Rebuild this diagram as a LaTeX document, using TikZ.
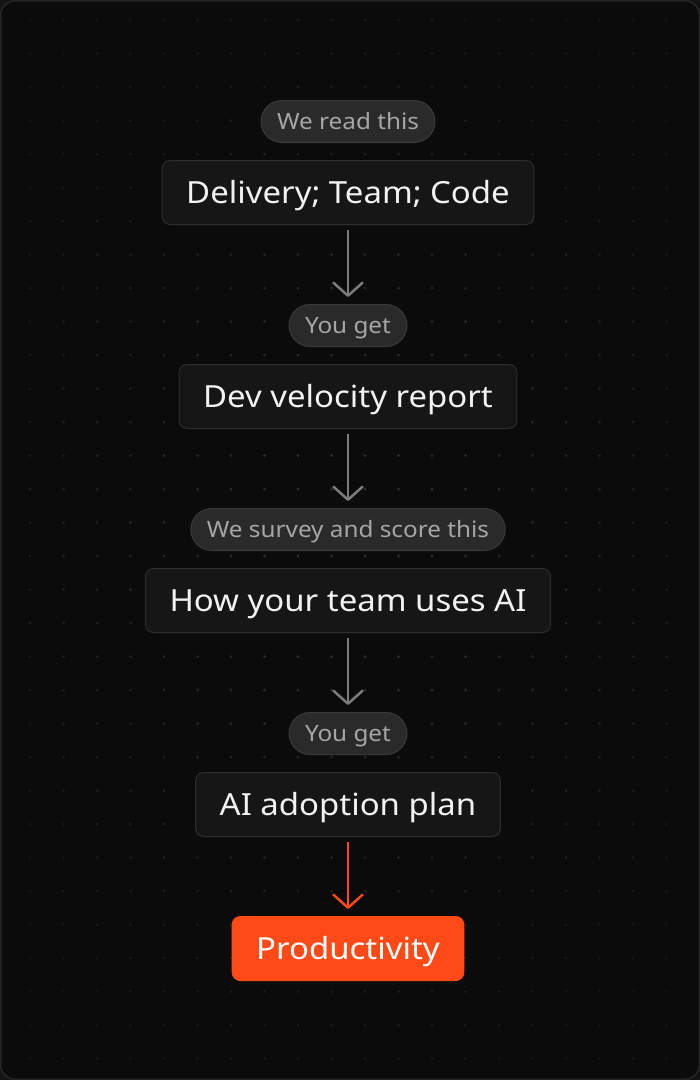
\documentclass[tikz,border=0pt]{standalone}
\usepackage{fontspec}
\setmainfont{Noto Sans}[FakeStretch=1.08]
\usepackage{xcolor}
\usepackage{tikz}
\usetikzlibrary{positioning, arrows.meta}
\definecolor{PageBg}{HTML}{141414}
\definecolor{CardBg}{HTML}{0B0B0B}
\definecolor{CardEdge}{HTML}{262626}
\definecolor{DotGray}{HTML}{363636}
\definecolor{PillFill}{HTML}{2A2A2A}
\definecolor{PillEdge}{HTML}{3A3A3A}
\definecolor{PillText}{HTML}{A6A6A6}
\definecolor{BoxFill}{HTML}{161616}
\definecolor{BoxEdge}{HTML}{2E2E2E}
\definecolor{BoxText}{HTML}{F2F2F2}
\definecolor{ArrowGray}{HTML}{7C7C7C}
\definecolor{FlameOrange}{HTML}{FF4A17}
\tikzset{
    tagpill/.style={
        draw=PillEdge, fill=PillFill, line width=1pt, rounded corners=21pt,
        minimum height=42pt, inner xsep=16pt, text=PillText,
        text height=20pt, text depth=4pt, font=\fontsize{22.5}{26}\selectfont
    },
    stagebox/.style={
        draw=BoxEdge, fill=BoxFill, line width=1pt, rounded corners=8pt,
        minimum height=64pt, inner xsep=24pt, text=BoxText,
        text height=27.5pt, text depth=6pt, font=\fontsize{30.5}{34}\selectfont
    },
    goalbox/.style={
        stagebox, draw=FlameOrange, fill=FlameOrange, text=white
    },
    flowarrow/.style={
        -{Straight Barb[length=13pt, width=29pt, round]}, line width=2.5pt,
        ArrowGray, shorten <=5pt, shorten >=7pt
    },
    goalarrow/.style={
        flowarrow, FlameOrange
    }
}

\begin{document}
\begin{tikzpicture}[x=1pt, y=-1pt, node distance=17pt]
    \useasboundingbox (0,0) rectangle (700,1080);
    % --- card and dot grid ---
    \fill[PageBg] (0,0) rectangle (700,1080);
    \draw[CardEdge, fill=CardBg, line width=1.5pt, rounded corners=14pt] (0.75,0.75) rectangle (699.25,1079.25);
    \foreach \i in {0,...,19} {
        \foreach \j in {0,...,31} {
            \pgfmathsetmacro\dx{30+33.5*\i}
            \pgfmathsetmacro\dy{20+33.5*\j}
            \pgfmathsetmacro\op{max(0.25, 1-veclen(\dx-350,(\dy-540)*0.7)/560)}
            \fill[DotGray, fill opacity=\op] (\dx,\dy) circle (1.5pt);
        }
    }

    % --- stages ---
    \node[tagpill] (read) at (348,121.5) {We read this};
    \node[stagebox, below=of read] (inputs) {Delivery; Team; Code};
    \node[tagpill, below=79pt of inputs] (get1) {You get};
    \node[stagebox, below=of get1] (report) {Dev velocity report};
    \node[tagpill, below=79pt of report] (survey) {We survey and score this};
    \node[stagebox, below=of survey] (usage) {How your team uses AI};
    \node[tagpill, below=79pt of usage] (get2) {You get};
    \node[stagebox, below=of get2] (plan) {AI adoption plan};
    \node[goalbox, below=79pt of plan] (goal) {Productivity};

    % --- arrows ---
    \draw[flowarrow] (inputs) -- (get1);
    \draw[flowarrow] (report) -- (survey);
    \draw[flowarrow] (usage) -- (get2);
    \draw[goalarrow] (plan) -- (goal);
\end{tikzpicture}
\end{document}
